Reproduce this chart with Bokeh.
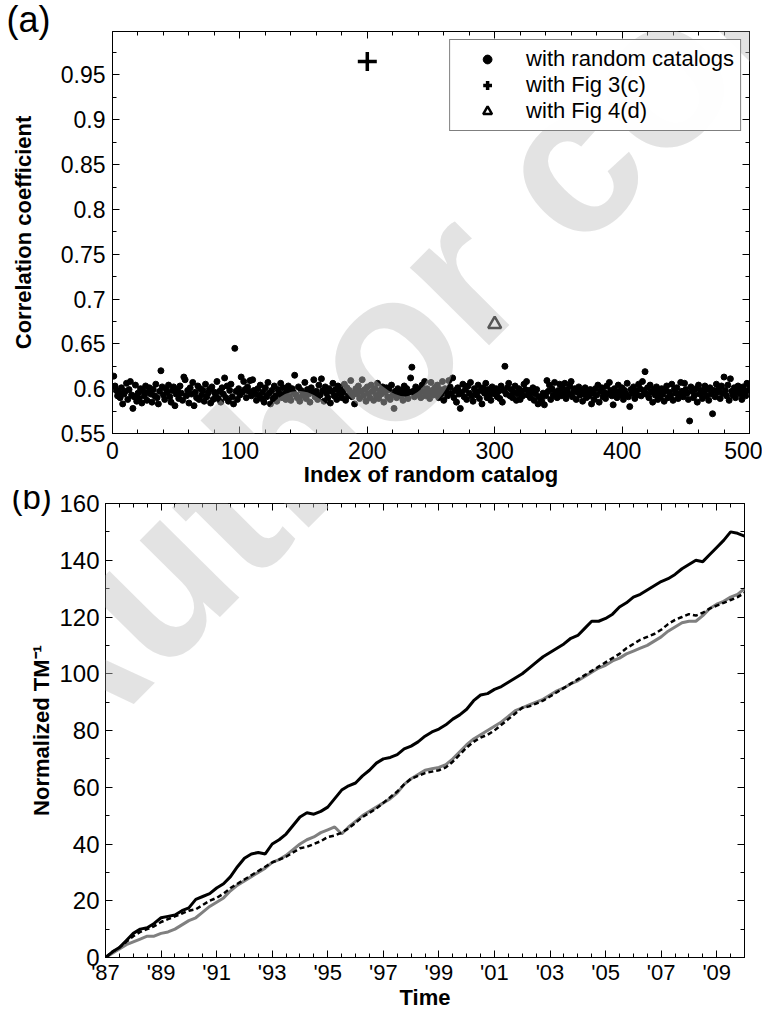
from bokeh.plotting import figure
from bokeh.layouts import column
from bokeh.models import Range1d, LinearAxis, FixedTicker, Legend, LegendItem, Label
from bokeh.embed import file_html
from bokeh.resources import INLINE

FONT = "Liberation Sans"

# ---------------- panel (a) data ----------------
corr_random = [
    0.614, 0.603, 0.598, 0.592, 0.596, 0.590, 0.601, 0.583, 0.594, 0.597, 0.606, 0.588, 0.599, 0.608, 0.593, 0.578, 0.591, 0.604, 0.586, 0.595, 0.589, 0.600, 0.584, 0.597, 0.592,
    0.603, 0.587, 0.596, 0.601, 0.594, 0.585, 0.599, 0.592, 0.605, 0.590, 0.583, 0.597, 0.620, 0.602, 0.593, 0.588, 0.600, 0.596, 0.604, 0.591, 0.585, 0.598, 0.602, 0.581, 0.594,
    0.599, 0.589, 0.603, 0.595, 0.587, 0.613, 0.610, 0.592, 0.598, 0.584, 0.601, 0.594, 0.607, 0.581, 0.596, 0.590, 0.603, 0.588, 0.600, 0.593, 0.598, 0.586, 0.605, 0.591, 0.595,
    0.599, 0.584, 0.602, 0.588, 0.596, 0.592, 0.608, 0.589, 0.597, 0.585, 0.601, 0.594, 0.612, 0.590, 0.603, 0.586, 0.598, 0.605, 0.591, 0.583, 0.645, 0.597, 0.588, 0.600, 0.593,
    0.613, 0.596, 0.608, 0.599, 0.590, 0.602, 0.597, 0.609, 0.592, 0.610, 0.598, 0.594, 0.587, 0.600, 0.593, 0.604, 0.589, 0.596, 0.585, 0.601, 0.591, 0.607, 0.595, 0.583, 0.598,
    0.589, 0.603, 0.592, 0.586, 0.599, 0.595, 0.606, 0.590, 0.601, 0.594, 0.588, 0.597, 0.603, 0.591, 0.587, 0.600, 0.596, 0.615, 0.593, 0.590, 0.602, 0.586, 0.598, 0.592, 0.595,
    0.607, 0.589, 0.599, 0.594, 0.585, 0.601, 0.596, 0.610, 0.591, 0.597, 0.588, 0.604, 0.593, 0.611, 0.598, 0.586, 0.602, 0.595, 0.590, 0.600, 0.584, 0.597, 0.606, 0.592, 0.599,
    0.588, 0.603, 0.594, 0.599, 0.590, 0.596, 0.605, 0.587, 0.601, 0.592, 0.598, 0.609, 0.591, 0.595, 0.583, 0.600, 0.594, 0.603, 0.589, 0.597, 0.610, 0.592, 0.599, 0.586, 0.602,
    0.595, 0.590, 0.604, 0.597, 0.587, 0.600, 0.593, 0.606, 0.589, 0.598, 0.594, 0.602, 0.585, 0.596, 0.601, 0.591, 0.599, 0.588, 0.604, 0.593, 0.578, 0.597, 0.590, 0.600, 0.595,
    0.592, 0.598, 0.587, 0.603, 0.594, 0.600, 0.589, 0.596, 0.612, 0.624, 0.597, 0.591, 0.602, 0.595, 0.599, 0.593, 0.590, 0.604, 0.597, 0.608, 0.592, 0.600, 0.594, 0.589, 0.607,
    0.598, 0.593, 0.601, 0.596, 0.604, 0.590, 0.599, 0.594, 0.608, 0.587, 0.600, 0.597, 0.592, 0.609, 0.602, 0.595, 0.612, 0.590, 0.598, 0.585, 0.601, 0.594, 0.578, 0.596, 0.605,
    0.591, 0.599, 0.588, 0.603, 0.595, 0.607, 0.592, 0.586, 0.600, 0.597, 0.593, 0.604, 0.589, 0.598, 0.583, 0.601, 0.595, 0.606, 0.590, 0.599, 0.593, 0.587, 0.602, 0.596, 0.594,
    0.600, 0.591, 0.597, 0.589, 0.603, 0.585, 0.598, 0.625, 0.594, 0.601, 0.606, 0.592, 0.599, 0.590, 0.596, 0.603, 0.587, 0.594, 0.600, 0.588, 0.597, 0.592, 0.605, 0.599, 0.608,
    0.593, 0.598, 0.590, 0.596, 0.601, 0.587, 0.594, 0.599, 0.583, 0.591, 0.589, 0.586, 0.595, 0.582, 0.592, 0.609, 0.597, 0.604, 0.588, 0.600, 0.593, 0.607, 0.596, 0.590, 0.598,
    0.605, 0.592, 0.601, 0.595, 0.606, 0.589, 0.599, 0.594, 0.603, 0.608, 0.591, 0.597, 0.600, 0.588, 0.596, 0.602, 0.593, 0.598, 0.586, 0.594, 0.601, 0.590, 0.597, 0.592, 0.599,
    0.583, 0.595, 0.588, 0.600, 0.593, 0.604, 0.585, 0.597, 0.601, 0.591, 0.596, 0.589, 0.603, 0.594, 0.607, 0.598, 0.592, 0.582, 0.600, 0.595, 0.590, 0.604, 0.597, 0.593, 0.601,
    0.588, 0.598, 0.594, 0.606, 0.591, 0.580, 0.599, 0.595, 0.602, 0.589, 0.597, 0.593, 0.605, 0.600, 0.592, 0.608, 0.598, 0.619, 0.594, 0.601, 0.590, 0.604, 0.596, 0.585, 0.599,
    0.593, 0.602, 0.588, 0.597, 0.591, 0.600, 0.594, 0.586, 0.598, 0.603, 0.590, 0.596, 0.592, 0.605, 0.587, 0.599, 0.595, 0.601, 0.589, 0.594, 0.607, 0.597, 0.591, 0.606, 0.599,
    0.595, 0.588, 0.564, 0.602, 0.597, 0.590, 0.593, 0.600, 0.585, 0.604, 0.594, 0.598, 0.589, 0.596, 0.603, 0.592, 0.599, 0.587, 0.601, 0.594, 0.572, 0.598, 0.591, 0.605, 0.596,
    0.600, 0.589, 0.603, 0.595, 0.613, 0.598, 0.592, 0.604, 0.587, 0.611, 0.597, 0.593, 0.601, 0.590, 0.596, 0.603, 0.599, 0.594, 0.588, 0.602, 0.597, 0.592, 0.606, 0.598, 0.604,
]
catalog_index = list(range(1, len(corr_random) + 1))
fig3c_index = [200]
fig3c_corr = [0.965]
fig4d_index = [300]
fig4d_corr = [0.672]

a_xticks = [0, 100, 200, 300, 400, 500]
a_xminor = [i * 20 for i in range(26)]
a_yticks = [0.55, 0.6, 0.65, 0.7, 0.75, 0.8, 0.85, 0.9, 0.95]
a_ytick_labels = ["0.55", "0.6", "0.65", "0.7", "0.75", "0.8", "0.85", "0.9", "0.95"]
a_yminor = [0.55 + 0.025 * i for i in range(19)]

# ---------------- panel (b) data ----------------
years = [1987 + 0.25 * i for i in range(93)]
tm_black = [
    0, 2, 3.5, 6,
    8.5, 10, 10.5, 12,
    14, 14.5, 15, 16.5,
    17.5, 20.5, 21.5, 22.5,
    24.5, 26, 28.5, 32,
    35, 36.5, 37, 36.5,
    40, 41.5, 43.5, 46.5,
    49.5, 51, 50.5, 51.5,
    53, 56, 59, 60.5,
    61.5, 64, 66, 68.5,
    70, 70.5, 71.5, 73.5,
    74.5, 76, 78, 79.5,
    80.5, 82, 84, 85.5,
    87.5, 90.5, 92.5, 93,
    94.5, 95.5, 97, 98.5,
    100, 102, 104, 106,
    107.5, 109, 110.5, 112.5,
    113.5, 116, 118.5, 118.5,
    119.5, 121, 123.5, 125,
    127, 128, 129.5, 131,
    132.5, 133.5, 135, 137,
    138.5, 140, 139.5, 142,
    144.5, 147, 150, 149.5,
    148.5,
]
tm_dashed = [
    0, 2, 3.5, 5.5,
    7.5, 9, 10, 11,
    12.5, 13.5, 14.5, 15.5,
    16.5, 17, 18.5, 20,
    21, 22.5, 24.5, 26,
    27.5, 29, 30.5, 32,
    33.5, 34.5, 35.5, 37,
    38.5, 39, 40, 41,
    42.5, 43, 44, 45.5,
    47.5, 49.5, 51, 52.5,
    54.5, 56.5, 58.5, 61,
    63, 64, 65, 65.5,
    66, 67, 69, 71.5,
    74, 76, 77.5, 78.5,
    80, 82, 84, 86,
    88, 88.5, 89.5, 90.5,
    92, 93.5, 95, 96.5,
    98, 99.5, 101, 102.5,
    104, 105.5, 107, 109,
    110.5, 112, 113, 114,
    115.5, 117.5, 119, 120,
    121, 120.5, 121.5, 123,
    124, 125, 126, 127,
    128.5,
]
tm_gray = [
    0, 1.5, 3, 4.5,
    5.5, 6.5, 7.5, 7.5,
    8.5, 9, 10, 11.5,
    13, 14, 16, 18,
    19.5, 21, 23.5, 25.5,
    27, 28.5, 30, 31.5,
    33.5, 34.5, 36, 38,
    40, 41.5, 42.5, 44,
    45, 46, 43.5, 46,
    48, 50, 51.5, 53,
    54.5, 56, 58, 61,
    63, 64.5, 66, 66.5,
    67, 68, 70, 72.5,
    75, 77, 78.5, 80,
    81.5, 83, 85, 87,
    88, 89, 90, 91,
    92.5, 94, 95, 96.5,
    97.5, 99, 100.5, 102,
    103, 104.5, 105.5, 107,
    108, 109, 110, 111.5,
    113, 115, 116.5, 118,
    118.5, 118.5, 120.5, 123,
    124.5, 125.5, 127, 128,
    130,
]
b_xticks = [1987, 1989, 1991, 1993, 1995, 1997, 1999, 2001, 2003, 2005, 2007, 2009]
b_xtick_labels = ["'87", "'89", "'91", "'93", "'95", "'97", "'99", "'01", "'03", "'05", "'07", "'09"]
b_xminor = [1987 + 0.5 * i for i in range(47)]
b_yticks = [0, 20, 40, 60, 80, 100, 120, 140, 160]
b_yminor = [10 * i for i in range(17)]


def try_set(obj, name, val, fallback):
    try:
        setattr(obj, name, val)
    except Exception:
        setattr(obj, name, fallback)


def style_axis(ax, label_size="22px"):
    ax.axis_line_color = None
    ax.major_tick_in = 7
    ax.major_tick_out = 0
    ax.minor_tick_in = 4
    ax.minor_tick_out = 0
    ax.major_tick_line_color = "black"
    ax.minor_tick_line_color = "black"
    ax.major_label_text_font = FONT
    ax.major_label_text_font_size = label_size
    ax.major_label_text_color = "black"
    ax.axis_label_text_font = FONT
    ax.axis_label_text_font_style = "bold"
    ax.axis_label_text_font_size = "22px"
    ax.axis_label_text_color = "black"


def mirror_axis(p, ticker, ticks, place):
    ax = LinearAxis(ticker=ticker)
    style_axis(ax)
    ax.major_label_overrides = {t: "" for t in ticks}
    ax.major_label_text_font_size = "1px"
    ax.major_label_standoff = 0
    p.add_layout(ax, place)


def watermark(p, x, y):
    p.add_layout(Label(x=x, y=y, x_units="canvas", y_units="canvas", text="Author copy",
                       angle=0.79, text_font=FONT, text_font_style="bold",
                       text_font_size="210px", text_color="#c0c0c0", text_alpha=0.45,
                       text_align="left", text_baseline="alphabetic"))


def panel_tag(p, text, offset, standoff, size):
    p.title.text = text
    p.title.align = "left"
    p.title.vertical_align = "top"
    p.title.offset = offset
    p.title.text_font = FONT
    p.title.text_font_size = size
    p.title.text_font_style = "normal"
    p.title.text_color = "black"
    try_set(p.title, "standoff", standoff, 0)


# ---------------- panel (a) ----------------
pa = figure(width=762, height=490, x_range=Range1d(0, 500), y_range=Range1d(0.55, 0.9985),
            output_backend="svg", toolbar_location=None,
            min_border_left=112, min_border_right=13, min_border_top=31, min_border_bottom=57)
pa.grid.visible = False
pa.outline_line_color = "black"
pa.outline_line_width = 1
panel_tag(pa, "(a)", -106, -21, "36px")

xt_a = FixedTicker(ticks=a_xticks, minor_ticks=a_xminor)
yt_a = FixedTicker(ticks=a_yticks, minor_ticks=a_yminor)
pa.xaxis.ticker = xt_a
pa.yaxis.ticker = yt_a
style_axis(pa.xaxis[0], "23px")
style_axis(pa.yaxis[0], "23px")
pa.xaxis.axis_label = "Index of random catalog"
pa.yaxis.axis_label = "Correlation coefficient"
pa.xaxis.major_label_standoff = 8
pa.xaxis.axis_label_standoff = 0
pa.yaxis.major_label_standoff = 7
pa.yaxis.axis_label_standoff = 22
pa.yaxis.major_label_overrides = {v: s for v, s in zip(a_yticks, a_ytick_labels)}
mirror_axis(pa, xt_a, a_xticks, "above")
mirror_axis(pa, yt_a, a_yticks, "right")

r_dots = pa.scatter(catalog_index, corr_random, marker="circle", size=6, color="black")
r_plus = pa.scatter(fig3c_index, fig3c_corr, marker="cross", size=19, line_color="black", line_width=3.5)
r_tri = pa.scatter(fig4d_index, fig4d_corr, marker="triangle", size=13, line_color="black",
                   fill_color="white", line_width=2.5)

legend = Legend(items=[LegendItem(label="with random catalogs", renderers=[r_dots]),
                       LegendItem(label="with Fig 3(c)", renderers=[r_plus]),
                       LegendItem(label="with Fig 4(d)", renderers=[r_tri])],
                location="top_right", border_line_color="black", border_line_width=1,
                label_text_font=FONT, label_text_font_size="22px", label_text_color="black",
                glyph_width=62, glyph_height=22, label_height=22, spacing=0,
                padding=6, label_standoff=8, margin=8)
pa.add_layout(legend)

watermark(pa, 0, 735)

# ---------------- panel (b) ----------------
pb = figure(width=762, height=522, x_range=Range1d(1987, 2010), y_range=Range1d(0, 160),
            output_backend="svg", toolbar_location=None,
            min_border_left=105, min_border_right=18, min_border_top=13, min_border_bottom=55)
pb.grid.visible = False
pb.outline_line_color = "black"
pb.outline_line_width = 1
panel_tag(pb, "(b)", -94, -28, "33px")

xt_b = FixedTicker(ticks=b_xticks, minor_ticks=b_xminor)
yt_b = FixedTicker(ticks=b_yticks, minor_ticks=b_yminor)
pb.xaxis.ticker = xt_b
pb.yaxis.ticker = yt_b
style_axis(pb.xaxis[0], "22px")
style_axis(pb.yaxis[0], "24px")
pb.xaxis.axis_label = "Time"
pb.yaxis.axis_label = "Normalized TM\u207b\u00b9"
pb.xaxis.major_label_standoff = 2
try_set(pb.xaxis[0], "axis_label_standoff", -3, 0)
pb.yaxis.major_label_standoff = 6
pb.yaxis.axis_label_standoff = 2
pb.xaxis.major_label_overrides = {v: s for v, s in zip(b_xticks, b_xtick_labels)}
mirror_axis(pb, xt_b, b_xticks, "above")
mirror_axis(pb, yt_b, b_yticks, "right")

pb.line(years, tm_gray, line_color="#808080", line_width=3)
pb.line(years, tm_dashed, line_color="black", line_width=2.5, line_dash="5 3")
pb.line(years, tm_black, line_color="black", line_width=3)

watermark(pb, 0, 245)

layout = column(column(pa), column(pb), spacing=0)
open("out.html", "w").write(file_html(layout, INLINE))
